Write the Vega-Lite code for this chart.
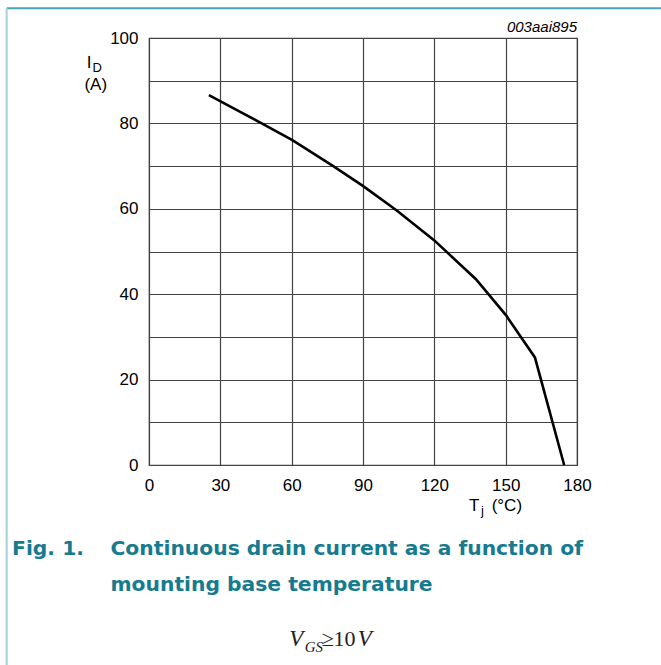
{
  "$schema": "https://vega.github.io/schema/vega-lite/v6.json",
  "width": 428,
  "height": 427,
  "autosize": {"type": "none"},
  "padding": {"left": 149, "top": 38, "right": 84, "bottom": 200},
  "background": "white",
  "config": {
    "view": {"stroke": "#444444", "strokeWidth": 1.2},
    "font": "Liberation Sans",
    "text": {"font": "Liberation Sans", "color": "#000000", "baseline": "alphabetic"}
  },
  "layer": [
    {
      "data": {"values": [
        {"Tj": 25.2, "ID": 86.6},
        {"Tj": 36.0, "ID": 83.4},
        {"Tj": 47.4, "ID": 80.0},
        {"Tj": 60.3, "ID": 76.1},
        {"Tj": 77.5, "ID": 70.0},
        {"Tj": 90.1, "ID": 65.3},
        {"Tj": 104.2, "ID": 59.6},
        {"Tj": 120.0, "ID": 52.6},
        {"Tj": 137.5, "ID": 43.5},
        {"Tj": 150.1, "ID": 35.1},
        {"Tj": 162.3, "ID": 25.2},
        {"Tj": 174.6, "ID": 0}
      ]},
      "mark": {"type": "line", "color": "#000000", "strokeWidth": 2.6, "clip": false},
      "encoding": {
        "x": {
          "field": "Tj", "type": "quantitative",
          "scale": {"domain": [0, 180], "nice": false, "zero": false},
          "axis": {
            "title": null, "values": [0, 30, 60, 90, 120, 150, 180],
            "grid": true, "gridColor": "#444444", "gridWidth": 1.2, "gridOpacity": 1,
            "domain": false, "ticks": false,
            "labelFontSize": 17, "labelColor": "#000000", "labelPadding": 12,
            "labelFlush": false, "labelOverlap": false, "labelFont": "Liberation Sans"
          }
        },
        "y": {
          "field": "ID", "type": "quantitative",
          "scale": {"domain": [0, 100], "nice": false, "zero": false},
          "axis": {
            "title": null, "values": [0, 10, 20, 30, 40, 50, 60, 70, 80, 90, 100],
            "labelExpr": "datum.value % 20 == 0 ? datum.label : ''",
            "grid": true, "gridColor": "#444444", "gridWidth": 1.2, "gridOpacity": 1,
            "domain": false, "ticks": false,
            "labelFontSize": 17, "labelColor": "#000000", "labelPadding": 11,
            "labelFlush": false, "labelOverlap": false, "labelFont": "Liberation Sans"
          }
        }
      }
    },
    {
      "data": {"values": [{"Tj": -59.85, "ID": 106.96, "Tj2": 215.3}]},
      "mark": {"type": "rule", "color": "#4aa3b5", "strokeWidth": 2, "clip": false},
      "encoding": {
        "x": {"field": "Tj", "type": "quantitative"},
        "x2": {"field": "Tj2"},
        "y": {"field": "ID", "type": "quantitative"}
      }
    },
    {
      "data": {"values": [{"Tj": -59.85, "ID": 106.96, "ID2": -46.84}]},
      "mark": {"type": "rule", "color": "#a6d0da", "strokeWidth": 2, "clip": false},
      "encoding": {
        "x": {"field": "Tj", "type": "quantitative"},
        "y": {"field": "ID", "type": "quantitative"},
        "y2": {"field": "ID2"}
      }
    },
    {
      "data": {"values": [
        {"Tj": -26.2, "ID": 93.0, "label": "I"},
        {"Tj": 134.6, "ID": -10.8, "label": "T"}
      ]},
      "mark": {"type": "text", "align": "left", "fontSize": 17},
      "encoding": {
        "x": {"field": "Tj", "type": "quantitative"},
        "y": {"field": "ID", "type": "quantitative"},
        "text": {"field": "label"}
      }
    },
    {
      "data": {"values": [
        {"Tj": -23.8, "ID": 92.1, "label": "D"},
        {"Tj": 139.6, "ID": -11.8, "label": "j"}
      ]},
      "mark": {"type": "text", "align": "left", "fontSize": 13},
      "encoding": {
        "x": {"field": "Tj", "type": "quantitative"},
        "y": {"field": "ID", "type": "quantitative"},
        "text": {"field": "label"}
      }
    },
    {
      "data": {"values": [
        {"Tj": -22.4, "ID": 87.9, "label": "(A)"},
        {"Tj": 150.5, "ID": -10.8, "label": "(°C)"}
      ]},
      "mark": {"type": "text", "align": "center", "fontSize": 17},
      "encoding": {
        "x": {"field": "Tj", "type": "quantitative"},
        "y": {"field": "ID", "type": "quantitative"},
        "text": {"field": "label"}
      }
    },
    {
      "data": {"values": [{"Tj": 180, "ID": 101.5, "label": "003aai895"}]},
      "mark": {"type": "text", "align": "right", "fontSize": 15, "fontStyle": "italic"},
      "encoding": {
        "x": {"field": "Tj", "type": "quantitative"},
        "y": {"field": "ID", "type": "quantitative"},
        "text": {"field": "label"}
      }
    },
    {
      "data": {"values": [
        {"Tj": -57.6, "ID": -21.1, "label": "Fig. 1."},
        {"Tj": -16.2, "ID": -21.1, "label": "Continuous drain current as a function of"},
        {"Tj": -16.2, "ID": -29.4, "label": "mounting base temperature"}
      ]},
      "mark": {"type": "text", "align": "left", "fontSize": 20.3, "font": "DejaVu Sans", "fontWeight": "bold", "color": "#167b8f"},
      "encoding": {
        "x": {"field": "Tj", "type": "quantitative"},
        "y": {"field": "ID", "type": "quantitative"},
        "text": {"field": "label"}
      }
    },
    {
      "data": {"values": [
        {"Tj": 59.0, "ID": -42.4, "label": "V"},
        {"Tj": 87.8, "ID": -42.4, "label": "V"}
      ]},
      "mark": {"type": "text", "align": "left", "fontSize": 23, "font": "Liberation Serif", "fontStyle": "italic", "color": "#222222"},
      "encoding": {
        "x": {"field": "Tj", "type": "quantitative"},
        "y": {"field": "ID", "type": "quantitative"},
        "text": {"field": "label"}
      }
    },
    {
      "data": {"values": [{"Tj": 65.5, "ID": -43.8, "label": "GS"}]},
      "mark": {"type": "text", "align": "left", "fontSize": 15, "font": "Liberation Serif", "fontStyle": "italic", "color": "#222222"},
      "encoding": {
        "x": {"field": "Tj", "type": "quantitative"},
        "y": {"field": "ID", "type": "quantitative"},
        "text": {"field": "label"}
      }
    },
    {
      "data": {"values": [
        {"Tj": 72.6, "ID": -42.4, "label": "≥"},
        {"Tj": 77.6, "ID": -42.4, "label": "10"}
      ]},
      "mark": {"type": "text", "align": "left", "fontSize": 22, "font": "Liberation Serif", "color": "#222222"},
      "encoding": {
        "x": {"field": "Tj", "type": "quantitative"},
        "y": {"field": "ID", "type": "quantitative"},
        "text": {"field": "label"}
      }
    }
  ]
}
